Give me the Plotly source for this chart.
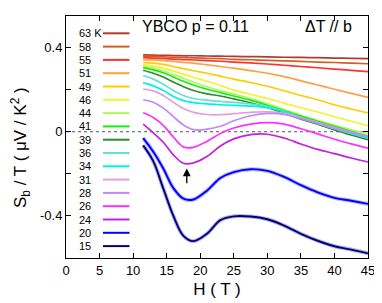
import plotly.graph_objects as go

# ---- data ----
H = [11.5, 13, 14.5, 16, 17.5, 19, 21, 23, 25, 27.5, 30, 32.5, 35, 37.5, 40, 42.5, 45]

temps = [63, 58, 55, 51, 49, 46, 44, 41, 39, 36, 34, 31, 28, 26, 24, 20, 15]

S63 = [0.365, 0.364, 0.363, 0.362, 0.361, 0.361, 0.360, 0.359, 0.358, 0.357, 0.356, 0.354, 0.353, 0.352, 0.350, 0.349, 0.347]
S58 = [0.359, 0.358, 0.356, 0.354, 0.353, 0.351, 0.349, 0.347, 0.344, 0.342, 0.339, 0.337, 0.334, 0.331, 0.329, 0.326, 0.323]
S55 = [0.352, 0.350, 0.348, 0.345, 0.343, 0.341, 0.338, 0.335, 0.331, 0.327, 0.322, 0.316, 0.310, 0.304, 0.298, 0.292, 0.286]
S51 = [0.343, 0.341, 0.338, 0.334, 0.330, 0.326, 0.318, 0.310, 0.302, 0.290, 0.278, 0.262, 0.242, 0.222, 0.202, 0.182, 0.163]
S49 = [0.330, 0.326, 0.320, 0.310, 0.300, 0.290, 0.278, 0.264, 0.250, 0.234, 0.216, 0.195, 0.172, 0.152, 0.128, 0.108, 0.089]
S46 = [0.319, 0.312, 0.302, 0.288, 0.274, 0.258, 0.240, 0.220, 0.198, 0.178, 0.158, 0.136, 0.114, 0.094, 0.071, 0.050, 0.029]
S44 = [0.312, 0.302, 0.290, 0.272, 0.254, 0.236, 0.214, 0.196, 0.180, 0.158, 0.134, 0.106, 0.078, 0.054, 0.030, 0.009, -0.011]
S41 = [0.305, 0.294, 0.280, 0.260, 0.240, 0.222, 0.202, 0.186, 0.170, 0.150, 0.126, 0.100, 0.074, 0.050, 0.026, 0.002, -0.022]
S39 = [0.292, 0.278, 0.260, 0.236, 0.214, 0.196, 0.180, 0.170, 0.156, 0.138, 0.116, 0.088, 0.060, 0.036, 0.008, -0.015, -0.038]
S36 = [0.267, 0.250, 0.226, 0.196, 0.172, 0.158, 0.150, 0.144, 0.140, 0.132, 0.120, 0.096, 0.068, 0.042, 0.016, -0.008, -0.030]
S34 = [0.232, 0.218, 0.196, 0.168, 0.148, 0.138, 0.132, 0.128, 0.125, 0.122, 0.114, 0.094, 0.066, 0.040, 0.014, -0.008, -0.030]
S31 = [0.203, 0.194, 0.172, 0.140, 0.110, 0.092, 0.082, 0.081, 0.086, 0.092, 0.095, 0.088, 0.066, 0.044, 0.020, -0.002, -0.022]
S28 = [0.152, 0.140, 0.112, 0.072, 0.032, 0.010, 0.012, 0.026, 0.052, 0.076, 0.087, 0.082, 0.062, 0.040, 0.016, -0.004, -0.022]
S26 = [0.090, 0.068, 0.030, -0.025, -0.072, -0.074, -0.046, -0.008, 0.018, 0.036, 0.043, 0.036, 0.014, -0.010, -0.036, -0.058, -0.078]
S24 = [0.036, -0.005, -0.050, -0.110, -0.150, -0.148, -0.118, -0.068, -0.034, -0.014, -0.012, -0.030, -0.058, -0.084, -0.104, -0.125, -0.144]
S20 = [-0.030, -0.095, -0.175, -0.268, -0.318, -0.322, -0.280, -0.220, -0.192, -0.178, -0.186, -0.215, -0.254, -0.288, -0.314, -0.328, -0.343]
S15 = [-0.065, -0.140, -0.270, -0.400, -0.495, -0.520, -0.485, -0.420, -0.402, -0.403, -0.416, -0.446, -0.485, -0.518, -0.544, -0.560, -0.578]

series = [S63, S58, S55, S51, S49, S46, S44, S41, S39, S36, S34, S31, S28, S26, S24, S20, S15]

colors = ['#b33a30', '#d0601e', '#ff3030', '#ffa040', '#ffcc00', '#f2f230',
          '#b0f860', '#10f010', '#2e8b2e', '#66e0d0', '#00f0f0', '#e0a0e0',
          '#c088f8', '#ff30ff', '#c020e0', '#0000ff', '#000080']
noisy = [20, 15]

x_ticks = [0, 5, 10, 15, 20, 25, 30, 35, 40, 45]
y_ticks = [-0.4, 0, 0.4]
y_labels = ['-0.4', '0', '0.4']
y_minor = [-0.6, -0.2, 0.2]

arrow_H = 18
arrow_from = -0.285
arrow_to = -0.175

FONT = 'Arial, Liberation Sans, sans-serif'

fig = go.Figure()

# zero reference line
fig.add_shape(type='line', xref='paper', yref='y', x0=0, x1=1, y0=0, y1=0,
              line=dict(color='#555555', width=1, dash='dot'), layer='below')

for T, s, c in zip(temps, series, colors):
    if T in noisy:
        fig.add_trace(go.Scatter(x=H, y=s, mode='lines', line=dict(color=c, width=4, shape='spline'),
                                 opacity=0.28, showlegend=False, hoverinfo='skip'))
    fig.add_trace(go.Scatter(x=H, y=s, mode='lines',
                             line=dict(color=c, width=1.9 if T in noisy else 1.7, shape='spline'),
                             showlegend=False, name=f'{T} K'))

# page body has an 8px default margin: figure placed at (8, 8) in the window
OFF = 8
x_px0, x_px1, y_px0, y_px1 = 66, 368, 16, 258
def px(xp):
    return (xp - x_px0) / (x_px1 - x_px0)
def py(yp):
    return (y_px1 - yp) / (y_px1 - y_px0)

for i, (T, c) in enumerate(zip(temps, colors)):
    yy = py(33.3 + i * 13.3)
    label = f'{T} K' if i == 0 else f'{T}'
    fig.add_annotation(x=px(77), y=yy, xref='paper', yref='paper', text=label, showarrow=False,
                       xanchor='left', yanchor='middle', font=dict(size=11, color='black', family=FONT))
    fig.add_shape(type='line', xref='paper', yref='paper', x0=px(103), x1=px(129.5), y0=yy, y1=yy,
                  line=dict(color=c, width=2))

fig.add_annotation(x=px(140), y=py(27), xref='paper', yref='paper', text='YBCO p = 0.11',
                   showarrow=False, xanchor='left', yanchor='middle',
                   font=dict(size=16, color='black', family=FONT))
fig.add_annotation(x=px(354), y=py(27), xref='paper', yref='paper', text='ΔT // b',
                   showarrow=False, xanchor='right', yanchor='middle',
                   font=dict(size=16, color='black', family=FONT))

# y-axis title
fig.add_annotation(x=px(20), y=py(148), xref='paper', yref='paper',
                   text='S<sub>b</sub> / T ( μV / K<sup>2</sup> )', textangle=-90, showarrow=False,
                   xanchor='center', yanchor='middle', font=dict(size=17, color='black', family=FONT))

fig.add_annotation(x=arrow_H, y=arrow_to, ax=arrow_H, ay=arrow_from, xref='x', yref='y',
                   axref='x', ayref='y', showarrow=True, arrowhead=2, arrowsize=1.2,
                   arrowwidth=1.3, arrowcolor='black', text=' ')

axis_common = dict(showline=True, linecolor='black', linewidth=1, mirror='ticks', ticks='inside',
                   ticklen=5, tickcolor='black', showgrid=False, zeroline=False, automargin=False,
                   tickfont=dict(size=13, color='black', family=FONT))

fig.update_layout(
    width=382 - OFF, height=303 - OFF,
    margin=dict(l=66 - OFF, r=14, t=16 - OFF, b=45),
    paper_bgcolor='white', plot_bgcolor='white',
    font=dict(family=FONT, color='black'),
    xaxis=dict(range=[0, 45], tickvals=x_ticks, ticktext=[str(v) for v in x_ticks],
               title=dict(text='H ( T )', font=dict(size=17, family=FONT), standoff=6), **axis_common),
    yaxis=dict(range=[-0.6, 0.55], tickvals=y_ticks, ticktext=y_labels,
               minor=dict(tickvals=y_minor, ticks='inside', ticklen=5, tickcolor='black'),
               **axis_common),
)

fig.write_html('out.html')
